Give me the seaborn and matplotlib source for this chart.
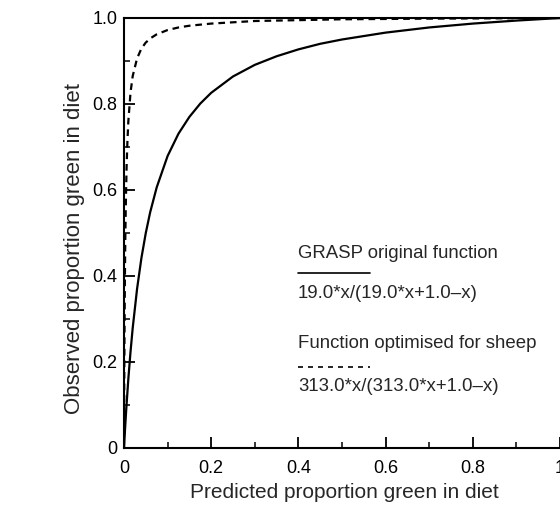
import numpy as np
import pandas as pd
import seaborn as sns
import matplotlib.pyplot as plt
from matplotlib.ticker import MultipleLocator, FixedLocator, FixedFormatter

# values
x_grasp = [0, 0.0025, 0.005, 0.01, 0.015, 0.02, 0.03, 0.04, 0.05, 0.06, 0.075, 0.1, 0.125, 0.15, 0.175,
           0.2, 0.25, 0.3, 0.35, 0.4, 0.45, 0.5, 0.6, 0.7, 0.8, 0.9, 1.0]
y_grasp = [0, 0.045, 0.087, 0.161, 0.224, 0.279, 0.370, 0.442, 0.500, 0.548, 0.606, 0.679, 0.731, 0.770, 0.801,
           0.826, 0.864, 0.891, 0.911, 0.927, 0.940, 0.950, 0.966, 0.978, 0.987, 0.994, 1.0]

x_sheep = [0, 0.0005, 0.001, 0.002, 0.003, 0.004, 0.006, 0.008, 0.01, 0.015, 0.02, 0.03, 0.04, 0.05,
           0.0625, 0.075, 0.1, 0.125, 0.15, 0.2, 0.3, 0.4, 0.5, 0.7, 1.0]
y_sheep = [0, 0.135, 0.239, 0.385, 0.485, 0.557, 0.654, 0.716, 0.760, 0.827, 0.865, 0.906, 0.929, 0.943,
           0.954, 0.962, 0.972, 0.978, 0.982, 0.987, 0.993, 0.995, 0.997, 0.9985, 1.0]

x_ticks = [0, 0.2, 0.4, 0.6, 0.8, 1.0]
x_tick_labels = ["0", "0.2", "0.4", "0.6", "0.8", "1"]
y_ticks = [0, 0.2, 0.4, 0.6, 0.8, 1.0]
y_tick_labels = ["0", "0.2", "0.4", "0.6", "0.8", "1.0"]

sns.set_style("ticks")
plt.rcParams['font.family'] = ['Liberation Sans', 'DejaVu Sans']

df = pd.concat([
    pd.DataFrame({"x": x_grasp, "y": y_grasp, "fn": "grasp"}),
    pd.DataFrame({"x": x_sheep, "y": y_sheep, "fn": "sheep"}),
])

fig = plt.figure(figsize=(5.6, 5.07), dpi=100)
ax = fig.add_axes([0.2214, 0.1164, 0.7786, 0.8481])

sns.lineplot(data=df[df.fn == "grasp"], x="x", y="y", ax=ax, color="black", lw=1.6, estimator=None, sort=False)
sns.lineplot(data=df[df.fn == "sheep"], x="x", y="y", ax=ax, color="black", lw=1.6, estimator=None, sort=False,
             linestyle=(0, (3, 2.2)))

ax.set_xlim(0, 1)
ax.set_ylim(0, 1)
ax.xaxis.set_major_locator(FixedLocator(x_ticks))
ax.xaxis.set_major_formatter(FixedFormatter(x_tick_labels))
ax.yaxis.set_major_locator(FixedLocator(y_ticks))
ax.yaxis.set_major_formatter(FixedFormatter(y_tick_labels))
ax.xaxis.set_minor_locator(MultipleLocator(0.1))
ax.yaxis.set_minor_locator(MultipleLocator(0.1))
ax.tick_params(which="major", direction="in", length=8, width=1.3, labelsize=13, colors="black")
ax.tick_params(which="minor", direction="in", length=4, width=1.3)
ax.tick_params(axis="x", which="major", pad=8.5)
ax.tick_params(axis="y", which="major", pad=4.5)

for s in ["left", "bottom", "top"]:
    ax.spines[s].set_linewidth(1.5)
    ax.spines[s].set_color("black")
ax.spines["right"].set_visible(False)

ax.set_xlabel("Predicted proportion green in diet", fontsize=15)
ax.xaxis.set_label_coords(0.506, -0.081)
ax.set_ylabel("Observed proportion green in diet", fontsize=16, va="center")
ax.yaxis.set_label_coords(-0.114, 0.465)

# in-plot key
kx = 0.399
ax.text(kx, 0.453, "GRASP original function", fontsize=13.4, transform=ax.transAxes, va="center")
ax.plot([kx, 0.564], [0.407, 0.407], color="black", lw=1.2, transform=ax.transAxes)
ax.text(kx, 0.360, "19.0*x/(19.0*x+1.0\u2013x)", fontsize=13.4, transform=ax.transAxes, va="center")
ax.text(kx, 0.244, "Function optimised for sheep", fontsize=13.4, transform=ax.transAxes, va="center")
ax.plot([kx, 0.564], [0.188, 0.188], color="black", lw=1.2, ls=(0, (3, 3)), transform=ax.transAxes)
ax.text(kx, 0.142, "313.0*x/(313.0*x+1.0\u2013x)", fontsize=13.4, transform=ax.transAxes, va="center")

fig.savefig("out.png", dpi=100)
